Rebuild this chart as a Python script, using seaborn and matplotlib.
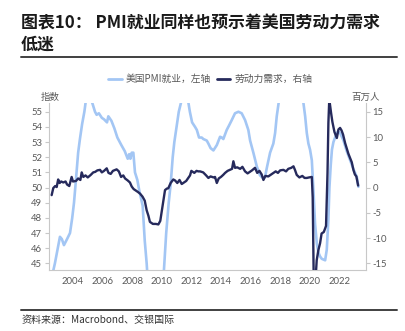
import matplotlib
matplotlib.use("Agg")
import matplotlib.pyplot as plt
import seaborn as sns
import pandas as pd
from matplotlib.lines import Line2D

# ---------------- data ----------------
pmi_x = [2002.55, 2002.78, 2003.12, 2003.25, 2003.39, 2003.6, 2003.8, 2003.95, 2004.07, 2004.2,
         2004.35, 2004.47, 2004.62, 2004.77, 2004.95, 2005.1, 2005.3, 2005.49, 2005.6, 2005.75,
         2005.95, 2006.1, 2006.3, 2006.39, 2006.6, 2006.8, 2007.0, 2007.27, 2007.5, 2007.7,
         2007.8, 2007.88, 2007.97, 2008.08, 2008.19, 2008.35, 2008.48, 2008.71, 2008.85, 2008.98,
         2009.3, 2009.6, 2010.0, 2010.15, 2010.3, 2010.47, 2010.6, 2010.74, 2010.85, 2011.0,
         2011.15, 2011.4, 2011.6, 2011.8, 2011.9, 2012.05, 2012.25, 2012.37, 2012.52, 2012.7,
         2012.81, 2013.04, 2013.15, 2013.3, 2013.49, 2013.72, 2013.94, 2014.05, 2014.16, 2014.39,
         2014.55, 2014.73, 2014.95, 2015.18, 2015.4, 2015.63, 2015.85, 2015.97, 2016.19, 2016.42,
         2016.64, 2016.87, 2016.98, 2017.1, 2017.32, 2017.54, 2017.66, 2017.77, 2017.9, 2018.4,
         2019.0, 2019.57, 2019.69, 2019.8, 2019.91, 2020.02, 2020.14, 2020.25, 2020.36, 2020.48,
         2020.59, 2020.7, 2020.81, 2021.04, 2021.15, 2021.26, 2021.33, 2021.42, 2021.5, 2021.6,
         2021.75, 2021.9, 2022.05, 2022.28, 2022.5, 2022.73, 2022.96, 2023.18, 2023.29]
pmi_v = [44.0, 45.0, 46.75, 46.6, 46.2, 46.6, 47.0, 48.0, 49.0, 50.5,
         52.3, 53.2, 54.2, 55.0, 56.3, 56.5, 55.6, 55.0, 54.8, 54.9,
         54.6, 54.5, 54.3, 54.7, 54.4, 53.9, 53.3, 52.8, 52.4, 51.9,
         52.2, 51.9, 52.3, 52.3, 51.0, 50.5, 49.8, 48.8, 46.5, 45.0,
         40.0, 39.5, 43.0, 44.6, 47.0, 49.0, 50.2, 52.0, 53.0, 54.0,
         55.0, 56.0, 56.3, 55.6, 55.0, 54.3, 54.0, 53.8, 53.3, 53.3,
         53.2, 53.1, 52.9, 52.6, 52.45, 52.8, 53.35, 53.3, 53.2, 53.8,
         54.1, 54.45, 54.9, 55.0, 54.9, 54.45, 53.8, 53.1, 52.3, 51.4,
         50.8, 50.6, 50.7, 51.3, 52.3, 52.9, 53.6, 54.7, 55.6, 57.5,
         57.0, 55.6, 54.7, 53.6, 52.9, 52.5, 51.8, 49.8, 47.6, 46.3,
         45.7, 45.45, 45.3, 45.2, 45.9, 47.9, 50.0, 51.5, 52.5, 53.0,
         53.4, 53.7, 53.6, 53.1, 52.4, 51.8, 51.2, 50.7, 50.05]

labor_x = [2002.56, 2002.67, 2002.8, 2002.9, 2003.0, 2003.1, 2003.2, 2003.35, 2003.5, 2003.6,
           2003.75, 2003.85, 2003.91, 2004.0, 2004.2, 2004.35, 2004.5, 2004.59, 2004.7, 2004.85,
           2005.0, 2005.2, 2005.37, 2005.5, 2005.65, 2005.83, 2005.95, 2006.1, 2006.28, 2006.4,
           2006.55, 2006.7, 2006.95, 2007.1, 2007.25, 2007.4, 2007.52, 2007.7, 2007.85, 2007.97,
           2008.1, 2008.25, 2008.4, 2008.53, 2008.7, 2008.85, 2008.98, 2009.1, 2009.2, 2009.4,
           2009.6, 2009.77, 2009.9, 2010.04, 2010.22, 2010.35, 2010.44, 2010.6, 2010.78, 2010.9,
           2011.05, 2011.2, 2011.35, 2011.5, 2011.65, 2011.91, 2012.0, 2012.2, 2012.35, 2012.47,
           2012.59, 2012.8, 2013.0, 2013.15, 2013.3, 2013.5, 2013.6, 2013.72, 2013.85, 2014.0,
           2014.15, 2014.28, 2014.45, 2014.6, 2014.75, 2014.84, 2014.95, 2015.1, 2015.3, 2015.45,
           2015.63, 2015.8, 2015.95, 2016.1, 2016.3, 2016.45, 2016.6, 2016.75, 2016.87, 2017.0,
           2017.2, 2017.35, 2017.54, 2017.7, 2017.85, 2018.0, 2018.22, 2018.4, 2018.55, 2018.75,
           2018.9, 2019.0, 2019.12, 2019.3, 2019.5, 2019.65, 2019.8, 2019.95, 2020.14, 2020.2,
           2020.27, 2020.4, 2020.47, 2020.58, 2020.7, 2020.8, 2020.95, 2021.1, 2021.2, 2021.26,
           2021.32, 2021.44, 2021.53, 2021.67, 2021.83, 2021.94, 2022.05, 2022.15, 2022.25, 2022.39,
           2022.61, 2022.84, 2022.95, 2023.05, 2023.15, 2023.27]
labor_v = [-1.5, -0.1, 0.3, 0.1, 1.6, 0.9, 1.2, 1.0, 1.2, 0.6,
           0.3, 1.4, 2.1, 1.2, 1.3, 1.8, 1.5, 3.0, 2.1, 2.4,
           2.0, 2.5, 3.0, 3.1, 3.4, 3.5, 3.0, 3.3, 3.8, 2.9,
           2.7, 3.3, 3.6, 3.2, 2.1, 2.4, 1.8, 1.4, 1.0, 0.2,
           -0.3, -0.6, -0.9, -1.2, -1.8, -2.6, -4.5, -5.6, -6.8, -7.2,
           -7.2, -7.3, -6.6, -3.9, -0.5, -0.2, -0.15, 0.9, 1.6, 1.4,
           0.9, 1.5, 0.7, 1.0, 1.3, 2.4, 3.3, 2.9, 3.3, 3.2,
           3.2, 3.0, 2.4, 1.9, 2.2, 2.0, 2.1, 0.9, 1.8, 2.1,
           2.5, 2.9, 3.3, 3.5, 3.7, 5.2, 3.9, 4.0, 3.7, 4.1,
           3.2, 2.8, 3.1, 3.4, 3.9, 2.9, 3.3, 2.6, 1.5, 2.3,
           2.2, 2.5, 2.9, 3.2, 2.9, 3.4, 3.5, 3.2, 3.7, 3.9,
           4.2, 3.5, 2.5, 2.0, 2.3, 1.9, 1.9, 2.0, 2.1, -2.0,
           -18.5, -17.8, -14.4, -12.4, -11.0, -9.1, -8.8, -7.6, 2.9, 12.8,
           17.5, 14.8, 13.0, 11.0, 9.8, 11.5, 11.8, 11.3, 10.5, 8.8,
           6.7, 5.0, 3.5, 2.6, 2.2, 0.4]

x_ticks = [2004, 2006, 2008, 2010, 2012, 2014, 2016, 2018, 2020, 2022]
left_ticks = [45, 46, 47, 48, 49, 50, 51, 52, 53, 54, 55]
right_ticks = [-15, -10, -5, 0, 5, 10, 15]

name_pmi = "美国PMI就业，左轴"
name_labor = "劳动力需求，右轴"
title_text = "图表10： PMI就业同样也预示着美国劳动力需求\n低迷"
source_text = "资料来源：Macrobond、交银国际"

# ---------------- style ----------------
sns.set_theme(style="white")
plt.rcParams['font.family'] = ['Noto Sans CJK SC', 'DejaVu Sans']
plt.rcParams['axes.unicode_minus'] = False

C_PMI = "#a3c6f4"
C_LAB = "#262a5c"
GRAY_TXT = "#595959"
SPINE = "#c8c8c8"

fig = plt.figure(figsize=(4.06, 3.31), dpi=100)
ax = fig.add_axes([0.1214, 0.1843, 0.7793, 0.5037])
ax2 = ax.twinx()

df_pmi = pd.DataFrame({"x": pmi_x, "v": pmi_v})
df_lab = pd.DataFrame({"x": labor_x, "v": labor_v})

sns.lineplot(data=df_pmi, x="x", y="v", ax=ax, color=C_PMI, linewidth=1.9, zorder=2)
sns.lineplot(data=df_lab, x="x", y="v", ax=ax2, color=C_LAB, linewidth=1.7, zorder=3)

ax.set_xlim(2002.4, 2023.78)
ax.set_ylim(44.56, 55.56)
ax2.set_ylim(-16.32, 16.68)

ax.set_xticks(x_ticks)
ax.set_xticklabels([str(t) for t in x_ticks])
ax.set_yticks(left_ticks)
ax.set_yticklabels([str(t) for t in left_ticks])
ax2.set_yticks(right_ticks)
ax2.set_yticklabels([str(t) for t in right_ticks])

for a in (ax, ax2):
    a.set_xlabel("")
    a.set_ylabel("")
    a.spines['top'].set_visible(False)
    for s in ('left', 'right', 'bottom'):
        a.spines[s].set_color(SPINE)
        a.spines[s].set_linewidth(0.8)
    a.tick_params(axis='both', which='both', direction='out', length=3, width=0.8,
                  color=SPINE, labelcolor=GRAY_TXT, labelsize=6.8, pad=2)
    a.grid(False)
ax2.spines['left'].set_visible(False)
ax2.spines['bottom'].set_visible(False)
ax.spines['right'].set_visible(False)
ax.set_zorder(0)
ax2.set_zorder(1)
ax2.patch.set_visible(False)

for lbl in ax.get_xticklabels() + ax.get_yticklabels() + ax2.get_yticklabels():
    lbl.set_family(['Lato', 'DejaVu Sans'])

# axis unit labels
fig.text(50 / 406, 1 - 97 / 331, "指数", ha='center', va='center', fontsize=6.8, color=GRAY_TXT)
fig.text(366 / 406, 1 - 97 / 331, "百万人", ha='center', va='center', fontsize=6.8, color=GRAY_TXT)

# legend
handles = [Line2D([0], [0], color=C_PMI, lw=2), Line2D([0], [0], color=C_LAB, lw=2)]
fig.legend(handles, [name_pmi, name_labor], loc='center', bbox_to_anchor=(210 / 406, 1 - 79 / 331),
           ncol=2, frameon=False, fontsize=7, handlelength=1.4, handletextpad=0.4,
           columnspacing=0.6, labelcolor=GRAY_TXT)

# title
fig.text(21 / 406, 1 - 34 / 331, title_text, ha='left', va='center', fontsize=12.2,
         fontweight='bold', color="#1a1a1a", linespacing=1.2)

# separator lines
fig.add_artist(Line2D([21 / 406, 397 / 406], [1 - 57.3 / 331, 1 - 57.3 / 331],
                      transform=fig.transFigure, color="#404040", lw=1.4))
fig.add_artist(Line2D([21 / 406, 397 / 406], [1 - 309.5 / 331, 1 - 309.5 / 331],
                      transform=fig.transFigure, color="#404040", lw=1.4))

# source
fig.text(22 / 406, 1 - 320 / 331, source_text, ha='left', va='center', fontsize=7.2,
         color="#333333", style='italic')

fig.savefig("out.png", dpi=100)
